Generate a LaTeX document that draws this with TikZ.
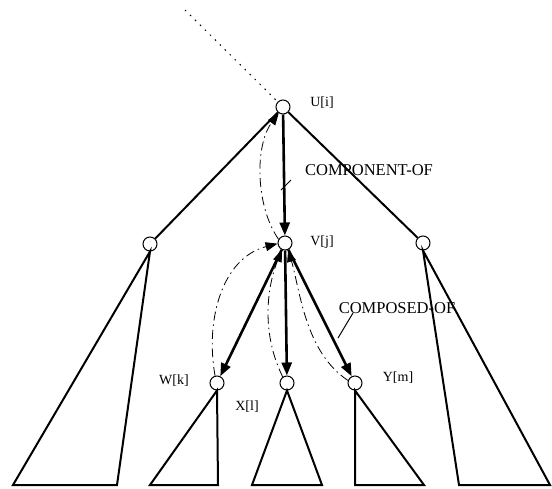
\documentclass[tikz,border=0pt]{standalone}
\usepackage{fontspec}
\setmainfont{Liberation Serif}
\usetikzlibrary{arrows.meta}
\begin{document}
\begin{tikzpicture}[x=1pt,y=-1pt,
  vert/.style={circle,draw,line width=1pt,fill=white,minimum size=14pt,inner sep=0pt},
  tree/.style={line width=2pt,line join=miter},
  rel/.style={line width=2.6pt,-{Triangle[length=13pt,width=10pt]}},
  back/.style={line width=0.8pt,dash pattern=on 9pt off 4pt on 1.5pt off 4pt,
    -{Triangle[length=12pt,width=9pt]}},
  lbl/.style={font=\fontsize{14}{14}\selectfont,inner sep=0pt},
  elbl/.style={font=\fontsize{16.5}{16.5}\selectfont,inner sep=0pt},
]
\useasboundingbox (0,0) rectangle (552,488);

% subtree fringes
\coordinate (la) at (13,485);  \coordinate (lb) at (117,485);
\coordinate (wa) at (150,485); \coordinate (wb) at (218,485);
\coordinate (xa) at (252,485); \coordinate (xb) at (322,485);
\coordinate (ya) at (355,485); \coordinate (yb) at (424,485);
\coordinate (ra) at (459,485); \coordinate (rb) at (550,485);
\coordinate (top) at (185,10);

% vertices
\node[vert] (U) at (283,107) {};
\node[vert] (L) at (150,244) {};
\node[vert] (V) at (285,243) {};
\node[vert] (R) at (423,243) {};
\node[vert] (W) at (217,383) {};
\node[vert] (X) at (287,383) {};
\node[vert] (Y) at (355,383) {};

% upward path
\draw[line width=1pt,dash pattern=on 1.5pt off 5.5pt] (top) -- (U);

% tree edges
\draw[tree] (U) -- (L);
\draw[tree] (U) -- (R);
\draw[tree] (L.south) -- (la) -- (lb) -- cycle;
\draw[tree] (R.south) -- (ra) -- (rb) -- cycle;
\draw[tree] (W.south) -- (wa) -- (wb) -- cycle;
\draw[tree] (X.south) -- (xa) -- (xb) -- cycle;
\draw[tree] (Y.south) -- (ya) -- (yb) -- cycle;

% relation arrows
\draw[rel] (U) -- (V);
\draw[rel] (V) -- (W);
\draw[rel] (V) -- (X);
\draw[rel] (V) -- (Y);

% inverse relations
\draw[back] (V.150) .. controls (255,205) and (255,145) .. (U.235);
\draw[back] (W.105) .. controls (205,320) and (222,258) .. (V.185);
\draw[back] (X.125) .. controls (262,335) and (266,290) .. (V.245);
\draw[back] (Y.160) .. controls (305,352) and (300,290) .. (V.295);

% labels
\node[lbl] (Ul) at (322,103) {U[i]};
\node[lbl] (Vl) at (322,242) {V[j]};
\node[lbl] (Wl) at (174,381) {W[k]};
\node[lbl] (Xl) at (247,407) {X[l]};
\node[lbl] (Yl) at (398,378) {Y[m]};
\node[elbl] (co) at (369,170) {COMPONENT-OF};
\node[elbl] (cd) at (397,308) {COMPOSED-OF};

% leaders
\coordinate (t1) at (281,190); \coordinate (t2) at (291,180);
\draw[line width=0.8pt] (t1) -- (t2);
\coordinate (c1) at (353,313); \coordinate (c2) at (338,338);
\draw[line width=1pt] (c1) -- (c2);
\end{tikzpicture}
\end{document}
